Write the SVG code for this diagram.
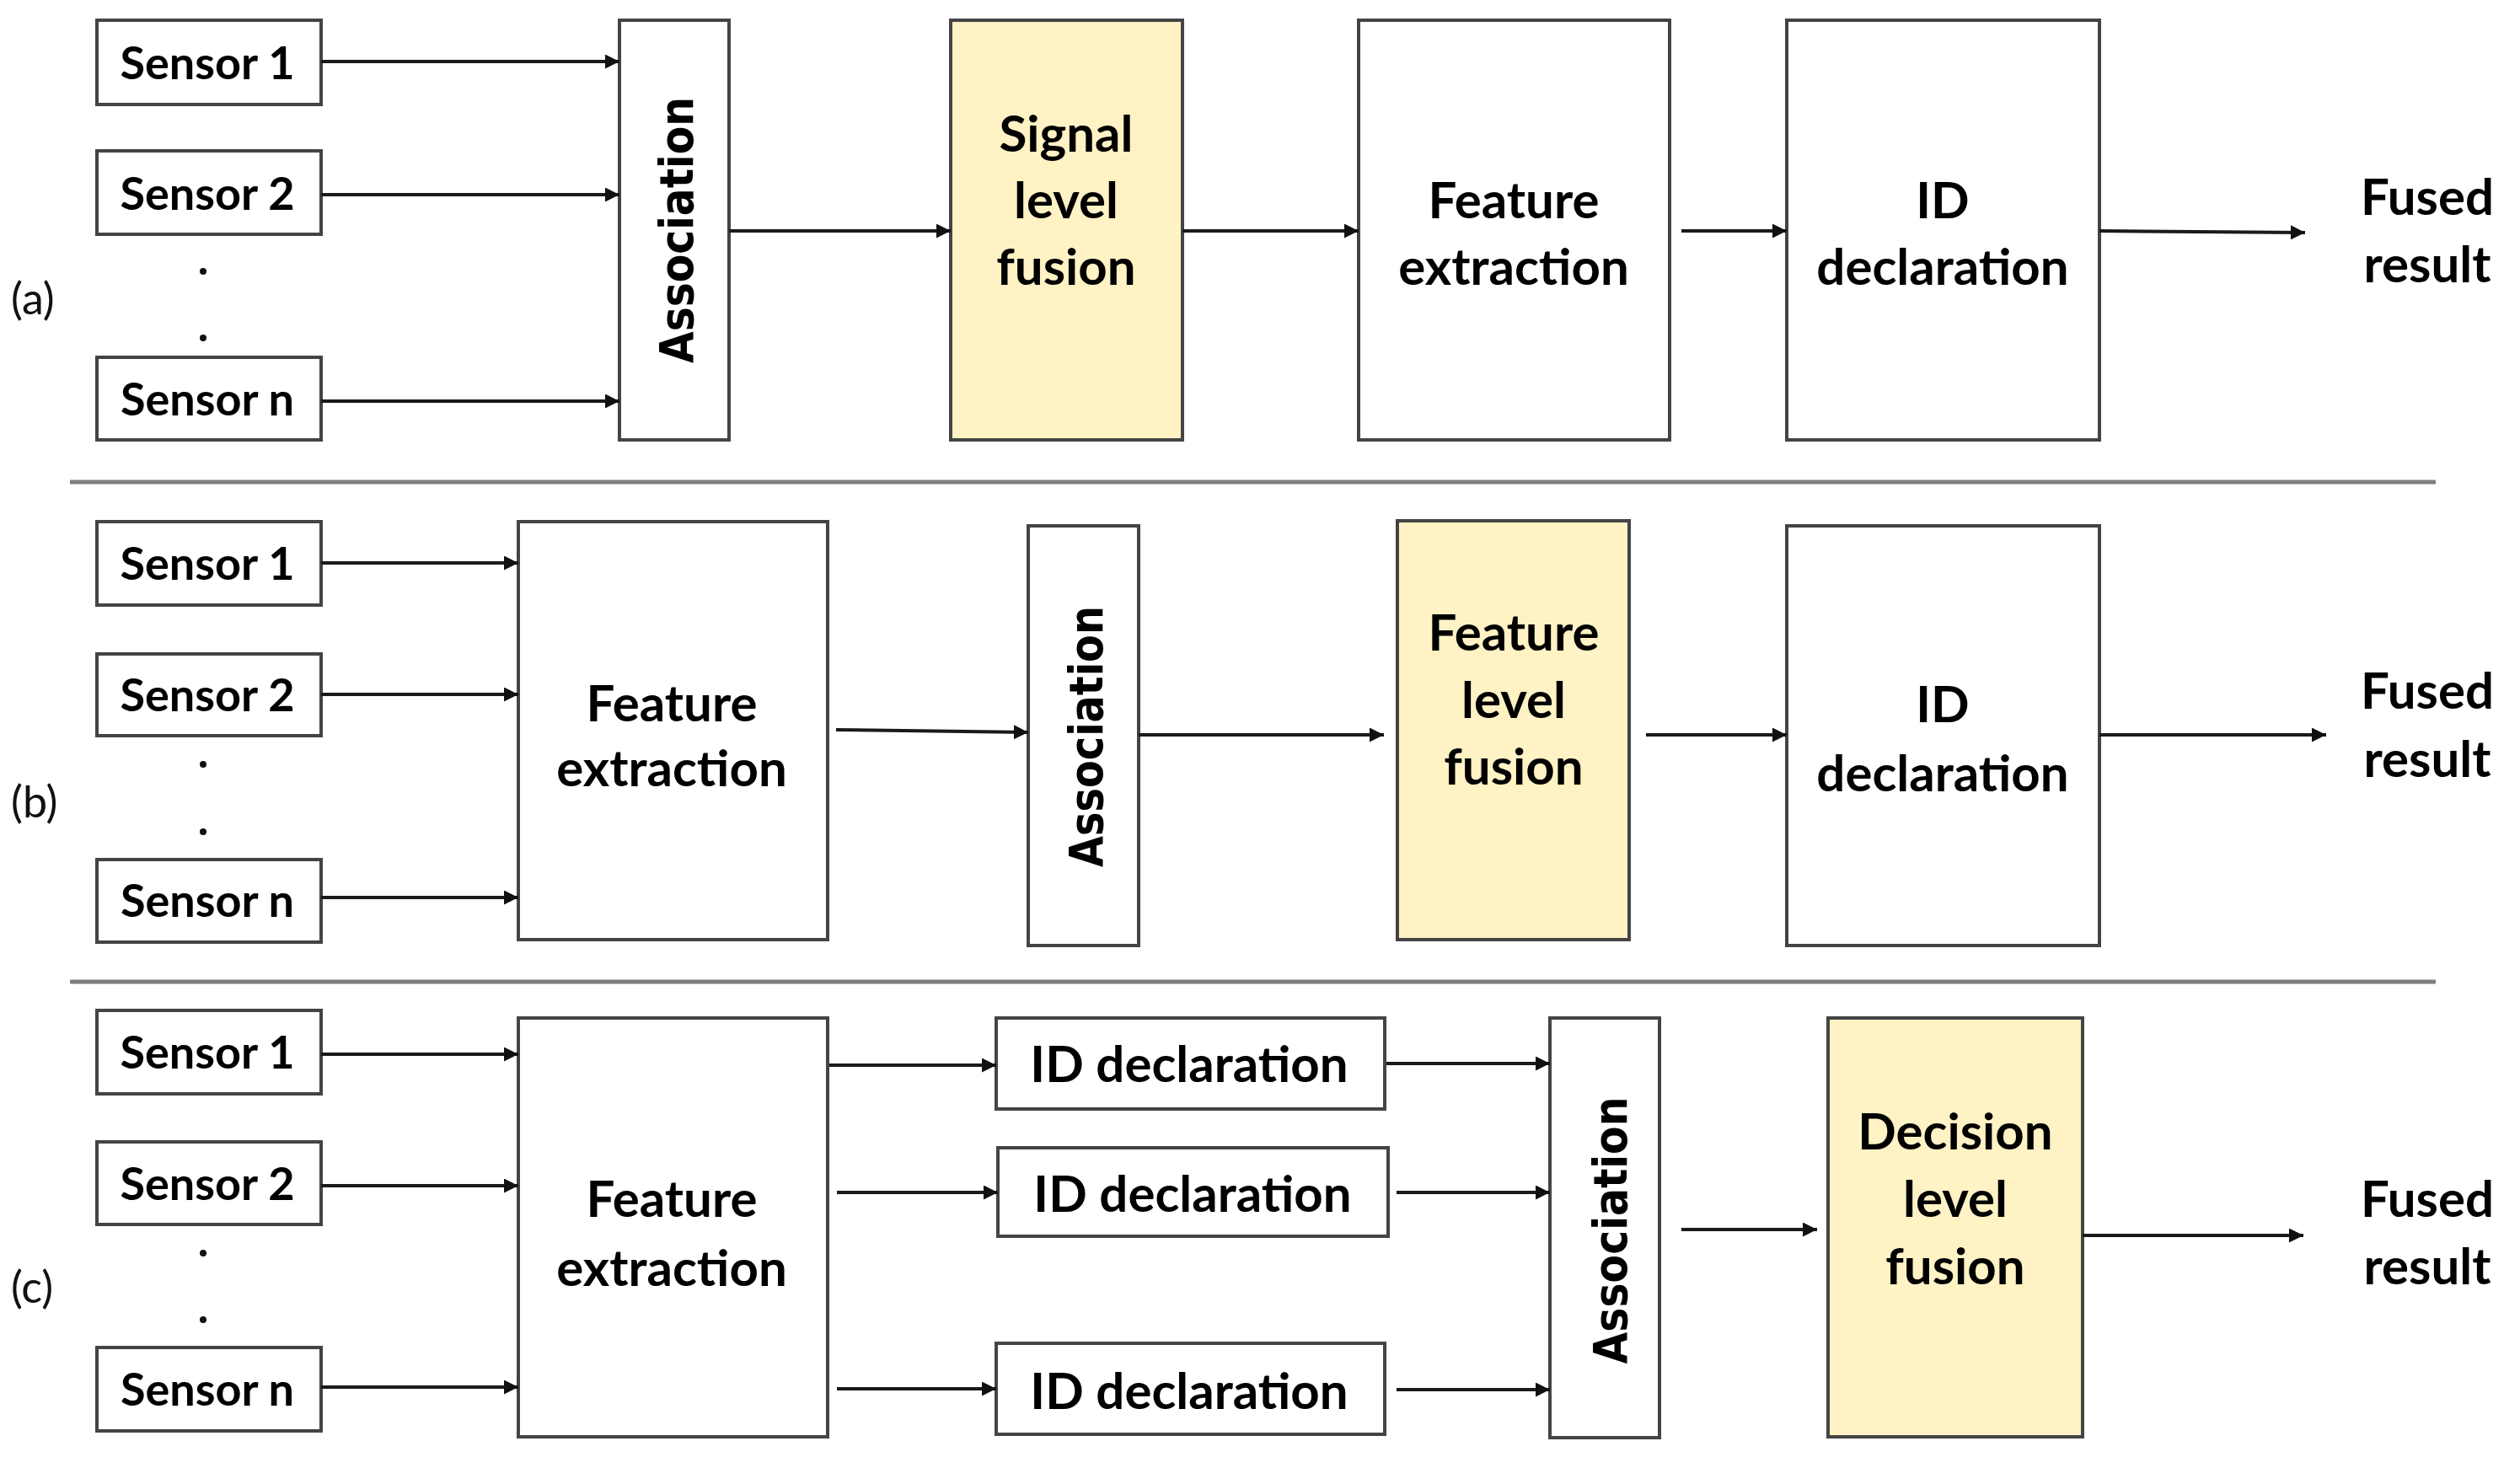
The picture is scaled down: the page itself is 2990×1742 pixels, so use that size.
<svg xmlns="http://www.w3.org/2000/svg" width="2990" height="1742" viewBox="0 0 2990 1742">
<style>
.box{fill:#ffffff;stroke:#444444;stroke-width:4}
.hl{fill:#fff2c5;stroke:#444444;stroke-width:4}
.t{font-family:Lato,"Liberation Sans",sans-serif;font-weight:bold;font-size:60px;fill:#000;text-anchor:middle}
.s{font-family:Lato,"Liberation Sans",sans-serif;font-weight:bold;font-size:54px;fill:#000;text-anchor:middle}
.lab{font-family:Lato,"Liberation Sans",sans-serif;font-size:52px;fill:#111}
.as{font-family:"DejaVu Sans",Verdana,sans-serif;font-weight:bold;font-size:56px;fill:#000;text-anchor:middle}
.c{fill:none;stroke:#1a1a1a;stroke-width:4;marker-end:url(#ah)}
.sep{stroke:#7f7f7f;stroke-width:5}
.dot{fill:#111}
</style>
<defs>
<marker id="ah" viewBox="0 0 10 10" refX="10" refY="5" markerWidth="17" markerHeight="17" markerUnits="userSpaceOnUse" orient="auto">
<path d="M0,0 L10,5 L0,10 z" fill="#111"/>
</marker>
</defs>
<rect width="2990" height="1742" fill="#ffffff"/>

<g id="separators">
<line class="sep" x1="83" y1="572" x2="2890" y2="572"/>
<line class="sep" x1="83" y1="1165" x2="2890" y2="1165"/>
</g>

<g id="labels">
<text class="lab" x="13" y="373">(a)</text>
<text class="lab" x="13" y="970">(b)</text>
<text class="lab" x="13" y="1546">(c)</text>
<circle class="dot" cx="241" cy="322" r="4"/>
<circle class="dot" cx="241" cy="401" r="4"/>
<circle class="dot" cx="241" cy="907" r="4"/>
<circle class="dot" cx="241" cy="987" r="4"/>
<circle class="dot" cx="241" cy="1487" r="4"/>
<circle class="dot" cx="241" cy="1566" r="4"/>
</g>

<!-- (a) -->
<g id="a-sensor1"><rect class="box" x="115" y="24" width="266" height="100"/><text class="s" x="246" y="94">Sensor 1</text></g>
<g id="a-sensor2"><rect class="box" x="115" y="179" width="266" height="99"/><text class="s" x="246" y="249">Sensor 2</text></g>
<g id="a-sensorn"><rect class="box" x="115" y="424" width="266" height="98"/><text class="s" x="246" y="493">Sensor n</text></g>
<g id="a-association"><rect class="box" x="735" y="24" width="130" height="498"/><text class="as" transform="translate(822,273) rotate(-90)" textLength="316" lengthAdjust="spacingAndGlyphs">Association</text></g>
<g id="a-signal"><rect class="hl" x="1128" y="24" width="275" height="498"/><text class="t" x="1265" y="180">Signal</text><text class="t" x="1265" y="259">level</text><text class="t" x="1265" y="338">fusion</text></g>
<g id="a-feature"><rect class="box" x="1612" y="24" width="369" height="498"/><text class="t" x="1796" y="259">Feature</text><text class="t" x="1796" y="338">extraction</text></g>
<g id="a-id"><rect class="box" x="2120" y="24" width="371" height="498"/><text class="t" x="2305" y="259">ID</text><text class="t" x="2305" y="338">declaration</text></g>
<g id="a-fused"><text class="t" x="2880" y="255">Fused</text><text class="t" x="2880" y="335">result</text></g>

<!-- (b) -->
<g id="b-sensor1"><rect class="box" x="115" y="619" width="266" height="99"/><text class="s" x="246" y="688">Sensor 1</text></g>
<g id="b-sensor2"><rect class="box" x="115" y="776" width="266" height="97"/><text class="s" x="246" y="844">Sensor 2</text></g>
<g id="b-sensorn"><rect class="box" x="115" y="1020" width="266" height="98"/><text class="s" x="246" y="1088">Sensor n</text></g>
<g id="b-feature"><rect class="box" x="615" y="619" width="367" height="496"/><text class="t" x="797" y="856">Feature</text><text class="t" x="797" y="933">extraction</text></g>
<g id="b-association"><rect class="box" x="1220" y="624" width="131" height="498"/><text class="as" transform="translate(1308,874) rotate(-90)" textLength="310" lengthAdjust="spacingAndGlyphs">Association</text></g>
<g id="b-flf"><rect class="hl" x="1658" y="618" width="275" height="497"/><text class="t" x="1796" y="772">Feature</text><text class="t" x="1796" y="852">level</text><text class="t" x="1796" y="931">fusion</text></g>
<g id="b-id"><rect class="box" x="2120" y="624" width="371" height="498"/><text class="t" x="2305" y="857">ID</text><text class="t" x="2305" y="939">declaration</text></g>
<g id="b-fused"><text class="t" x="2880" y="841">Fused</text><text class="t" x="2880" y="922">result</text></g>

<!-- (c) -->
<g id="c-sensor1"><rect class="box" x="115" y="1199" width="266" height="99"/><text class="s" x="246" y="1268">Sensor 1</text></g>
<g id="c-sensor2"><rect class="box" x="115" y="1355" width="266" height="98"/><text class="s" x="246" y="1424">Sensor 2</text></g>
<g id="c-sensorn"><rect class="box" x="115" y="1599" width="266" height="99"/><text class="s" x="246" y="1668">Sensor n</text></g>
<g id="c-feature"><rect class="box" x="615" y="1208" width="367" height="497"/><text class="t" x="797" y="1444">Feature</text><text class="t" x="797" y="1526">extraction</text></g>
<g id="c-id1"><rect class="box" x="1182" y="1208" width="461" height="108"/><text class="t" x="1411" y="1284">ID declaration</text></g>
<g id="c-id2"><rect class="box" x="1184" y="1362" width="463" height="105"/><text class="t" x="1415" y="1438">ID declaration</text></g>
<g id="c-id3"><rect class="box" x="1182" y="1594" width="461" height="108"/><text class="t" x="1411" y="1672">ID declaration</text></g>
<g id="c-association"><rect class="box" x="1839" y="1208" width="130" height="498"/><text class="as" transform="translate(1930,1460) rotate(-90)" textLength="317" lengthAdjust="spacingAndGlyphs">Association</text></g>
<g id="c-dlf"><rect class="hl" x="2169" y="1208" width="302" height="497"/><text class="t" x="2320" y="1364">Decision</text><text class="t" x="2320" y="1444">level</text><text class="t" x="2320" y="1524">fusion</text></g>
<g id="c-fused"><text class="t" x="2880" y="1444">Fused</text><text class="t" x="2880" y="1524">result</text></g>

<g id="connectors">
<line class="c" x1="381" y1="73" x2="735" y2="73"/>
<line class="c" x1="381" y1="231" x2="735" y2="231"/>
<line class="c" x1="381" y1="476" x2="735" y2="476"/>
<line class="c" x1="865" y1="274" x2="1128" y2="274"/>
<line class="c" x1="1403" y1="274" x2="1612" y2="274"/>
<line class="c" x1="1995" y1="274" x2="2120" y2="274"/>
<line class="c" x1="2491" y1="274" x2="2735" y2="276"/>

<line class="c" x1="381" y1="668" x2="615" y2="668"/>
<line class="c" x1="381" y1="824" x2="615" y2="824"/>
<line class="c" x1="381" y1="1065" x2="615" y2="1065"/>
<line class="c" x1="992" y1="866" x2="1220" y2="869"/>
<line class="c" x1="1351" y1="872" x2="1642" y2="872"/>
<line class="c" x1="1953" y1="872" x2="2120" y2="872"/>
<line class="c" x1="2491" y1="872" x2="2760" y2="872"/>

<line class="c" x1="381" y1="1251" x2="615" y2="1251"/>
<line class="c" x1="381" y1="1407" x2="615" y2="1407"/>
<line class="c" x1="381" y1="1646" x2="615" y2="1646"/>
<line class="c" x1="984" y1="1264" x2="1182" y2="1264"/>
<line class="c" x1="993" y1="1415" x2="1184" y2="1415"/>
<line class="c" x1="993" y1="1648" x2="1182" y2="1648"/>
<line class="c" x1="1645" y1="1262" x2="1839" y2="1262"/>
<line class="c" x1="1657" y1="1415" x2="1839" y2="1415"/>
<line class="c" x1="1657" y1="1649" x2="1839" y2="1649"/>
<line class="c" x1="1995" y1="1459" x2="2156" y2="1459"/>
<line class="c" x1="2471" y1="1466" x2="2733" y2="1466"/>
</g>
</svg>
